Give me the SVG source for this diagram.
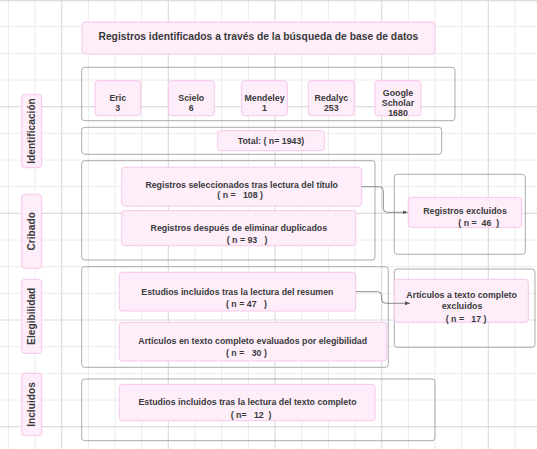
<svg xmlns="http://www.w3.org/2000/svg" width="537" height="449" viewBox="0 0 537 449">
<defs>
<style>
.minor{stroke:#ececec;stroke-width:1;fill:none}
.major{stroke:#dcdcdc;stroke-width:1.2;fill:none}
.cont{fill:none;stroke:#aaaaaa;stroke-width:1}
.box{fill:#fdeefa;stroke:#f7c6ea;stroke-width:1}
.t{font-family:"Liberation Sans",Arial,sans-serif;font-weight:bold;font-size:8.8px;fill:#3a3a3a;text-anchor:middle}
.s{text-anchor:start}
.title{font-size:10.3px}
.side{font-size:10.2px}
.conn{fill:none;stroke:#8a8a8a;stroke-width:1}
</style>
<marker id="arr" markerWidth="6" markerHeight="6" refX="5" refY="3" orient="auto" markerUnits="userSpaceOnUse">
<path d="M0,1 L5,3 L0,5 Z" fill="#555555"/>
</marker>
</defs>
<rect x="0" y="0" width="537" height="449" fill="#ffffff"/>
<g id="grid">
<path class="minor" d="M8.33 0V449M35 0V449M88.33 0V449M115 0V449M141.67 0V449M195 0V449M221.67 0V449M248.33 0V449M301.67 0V449M328.33 0V449M355 0V449M408.33 0V449M435 0V449M461.67 0V449M515 0V449M0 26.67H537M0 53.33H537M0 80H537M0 133.33H537M0 160H537M0 186.67H537M0 240H537M0 266.67H537M0 293.33H537M0 346.67H537M0 373.33H537M0 400H537"/>
<path class="major" d="M61.67 0V449M168.33 0V449M275 0V449M381.67 0V449M488.33 0V449M0 0.6H537M0 106.67H537M0 213.33H537M0 320H537M0 426.67H537"/>
</g>
<g id="containers">
<rect class="cont" x="81.7" y="67.3" width="373.3" height="53.4" rx="3"/>
<rect class="cont" x="81.7" y="127.3" width="360" height="27" rx="3"/>
<rect class="cont" x="81.7" y="160.7" width="293.3" height="99.3" rx="3"/>
<rect class="cont" x="394.3" y="174.3" width="131" height="80" rx="3"/>
<rect class="cont" x="81.7" y="266.7" width="306.6" height="100.6" rx="3"/>
<rect class="cont" x="394.3" y="269" width="140.7" height="78.3" rx="3"/>
<rect class="cont" x="81.7" y="379" width="353.3" height="61.7" rx="3"/>
</g>
<g id="side-identificacion">
<rect class="box" x="21.7" y="94.3" width="20" height="73.4" rx="3"/>
<text class="t side" transform="translate(31.7,131) rotate(-90)" dy="3.6">Identificación</text>
</g>
<g id="side-cribado">
<rect class="box" x="21.7" y="194.3" width="20" height="74" rx="3"/>
<text class="t side" transform="translate(31.7,231.3) rotate(-90)" dy="3.6">Cribado</text>
</g>
<g id="side-elegibilidad">
<rect class="box" x="21.7" y="279.3" width="20" height="74" rx="3"/>
<text class="t side" transform="translate(31.7,316.3) rotate(-90)" dy="3.6">Elegibilidad</text>
</g>
<g id="side-incluidos">
<rect class="box" x="21.7" y="373.3" width="20" height="62.4" rx="3"/>
<text class="t side" transform="translate(31.7,404.5) rotate(-90)" dy="3.6">Incluidos</text>
</g>
<g id="title">
<rect class="box" x="82" y="22" width="353" height="32" rx="3"/>
<text class="t title" x="258.4" y="39.7">Registros identificados a través de la búsqueda de base de datos</text>
</g>
<g id="eric">
<rect class="box" x="95" y="80.7" width="45.7" height="35" rx="3"/>
<text class="t" x="117.8" y="100.9">Eric</text>
<text class="t" x="117.8" y="110.9">3</text>
</g>
<g id="scielo">
<rect class="box" x="168.3" y="80.7" width="46" height="35" rx="3"/>
<text class="t" x="191.3" y="100.9">Scielo</text>
<text class="t" x="191.3" y="110.9">6</text>
</g>
<g id="mendeley">
<rect class="box" x="241.7" y="80.7" width="45.6" height="35" rx="3"/>
<text class="t" x="264.5" y="100.9">Mendeley</text>
<text class="t" x="264.5" y="110.9">1</text>
</g>
<g id="redalyc">
<rect class="box" x="308.3" y="80.7" width="46" height="35" rx="3"/>
<text class="t" x="331.3" y="100.9">Redalyc</text>
<text class="t" x="331.3" y="110.9">253</text>
</g>
<g id="google">
<rect class="box" x="375" y="80.7" width="46" height="35" rx="3"/>
<text class="t" x="398" y="95.5">Google</text>
<text class="t" x="398" y="105.9">Scholar</text>
<text class="t" x="398" y="115.9">1680</text>
</g>
<g id="total">
<rect class="box" x="217.7" y="130.7" width="106.6" height="20" rx="3"/>
<text class="t" x="271" y="143.9">Total: ( n= 1943)</text>
</g>
<g id="seleccionados">
<rect class="box" x="121.7" y="167.3" width="240" height="38.7" rx="3"/>
<text class="t" x="241.7" y="188.3">Registros seleccionados tras lectura del título</text>
<text class="t s" x="217.3" y="198.3" xml:space="preserve">( n =   108 )</text>
</g>
<g id="duplicados">
<rect class="box" x="121.7" y="210.7" width="234" height="35" rx="3"/>
<text class="t" x="238.8" y="230.5">Registros después de eliminar duplicados</text>
<text class="t s" x="226.7" y="242.5" xml:space="preserve">( n = 93   )</text>
</g>
<g id="excluidos">
<rect class="box" x="408.3" y="197.3" width="113.4" height="30" rx="3"/>
<text class="t" x="465" y="214.2">Registros excluidos</text>
<text class="t s" x="458.3" y="225.9" xml:space="preserve">( n =  46  )</text>
</g>
<g id="resumen">
<rect class="box" x="119.3" y="272.3" width="236.4" height="38.7" rx="3"/>
<text class="t" x="237.4" y="294.7">Estudios incluidos tras la lectura del resumen</text>
<text class="t s" x="226" y="307.2" xml:space="preserve">( n = 47   )</text>
</g>
<g id="elegibilidad">
<rect class="box" x="119.3" y="322.3" width="267.4" height="38.7" rx="3"/>
<text class="t" x="252.7" y="344.2">Artículos en texto completo evaluados por elegibilidad</text>
<text class="t s" x="226" y="355.9" xml:space="preserve">( n =   30 )</text>
</g>
<g id="excluidos-completo">
<rect class="box" x="394.3" y="279.3" width="134" height="43" rx="3"/>
<text class="t" x="461.6" y="298.2">Artículos a texto completo</text>
<text class="t" x="462" y="308.9">excluidos</text>
<text class="t s" x="445.7" y="321.5" xml:space="preserve">( n =   17 )</text>
</g>
<g id="incluidos">
<rect class="box" x="119.3" y="384.3" width="255.7" height="36.4" rx="3"/>
<text class="t" x="247.5" y="404.9">Estudios incluidos tras la lectura del texto completo</text>
<text class="t s" x="230.7" y="417.5" xml:space="preserve">( n=   12  )</text>
</g>
<g id="connectors">
<path class="conn" d="M361.7 186.7H379.3Q383.3 186.7 383.3 190.7V208.3Q383.3 212.3 387.3 212.3H407.5" marker-end="url(#arr)"/>
<path class="conn" d="M355.7 291.7H377.7Q381.7 291.7 381.7 295.7V299.3Q381.7 303.3 385.7 303.3H410" marker-end="url(#arr)"/>
</g>
</svg>
